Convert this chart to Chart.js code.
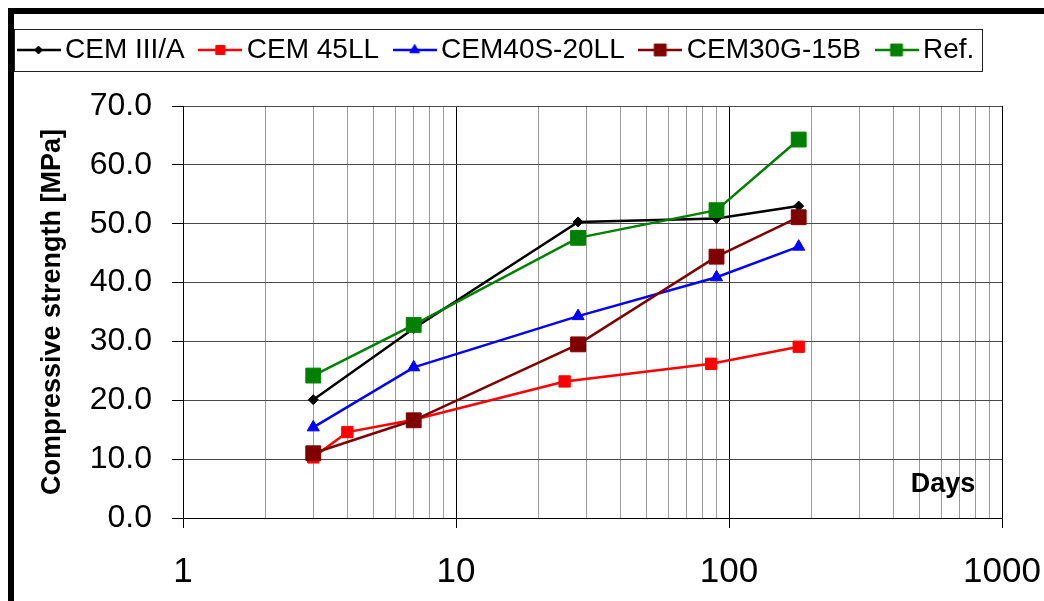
<!DOCTYPE html>
<html>
<head>
<meta charset="utf-8">
<script src="https://cdn.jsdelivr.net/npm/chart.js@4.4.1/dist/chart.umd.min.js"></script>
<style>
  html, body { margin: 0; padding: 0; background: #fff; }
  #grafico { display: block; }
</style>
</head>
<body>
<canvas id="grafico" width="1044" height="601"></canvas>
<script>
// Dados (dias x resistência à compressão, MPa)
const seriesNomes = ['CEM III/A', 'CEM 45LL', 'CEM40S-20LL', 'CEM30G-15B', 'Ref.'];
const dias = [3, 7, 28, 90, 180];
const diasCem45 = [3, 4, 7, 25, 86, 180];
const cemIIIA = [20.1, 32.2, 50.3, 50.9, 53.0];
const cem45LL = [10.3, 14.6, 16.7, 23.2, 26.2, 29.1];
const cem40S = [15.4, 25.6, 34.3, 40.9, 46.1];
const cem30G = [11.0, 16.6, 29.5, 44.4, 51.1];
const referencia = [24.2, 32.8, 47.6, 52.3, 64.3];

// ticks do eixo x (log) e rótulos visíveis
const xTicks = [1, 2, 3, 4, 5, 6, 7, 8, 9, 10, 20, 30, 40, 50, 60, 70, 80, 90,
                100, 200, 300, 400, 500, 600, 700, 800, 900, 1000];
const xRotulos = [1, 10, 100, 1000];
const yTicks = [0, 10, 20, 30, 40, 50, 60, 70];

const FONTE = '"Liberation Sans", Arial, sans-serif';
const PAD_LEGENDA = 23;

function pontos(xs, ys) {
  return xs.map((x, i) => ({ x: x, y: ys[i] }));
}

function iconeLegenda(cor, estilo, raio) {
  const c = document.createElement('canvas');
  c.width = 44; c.height = 24;
  const g = c.getContext('2d');
  g.strokeStyle = cor; g.lineWidth = 2.5;
  g.beginPath(); g.moveTo(0, 12); g.lineTo(44, 12); g.stroke();
  g.fillStyle = cor; g.lineWidth = 1;
  Chart.helpers.drawPoint(g, { pointStyle: estilo, radius: raio, borderWidth: 1, rotation: 0 }, 22, 12);
  return c;
}

const estilos = [
  { cor: '#000000', estilo: 'rectRot', raio: 5, dados: pontos(dias, cemIIIA) },
  { cor: '#ff0000', estilo: 'rect', raio: 8, dados: pontos(diasCem45, cem45LL) },
  { cor: '#0000ff', estilo: 'triangle', raio: 7, dados: pontos(dias, cem40S) },
  { cor: '#800000', estilo: 'rect', raio: 10.5, dados: pontos(dias, cem30G) },
  { cor: '#008000', estilo: 'rect', raio: 10.5, dados: pontos(dias, referencia) }
];
const icones = estilos.map(e => iconeLegenda(e.cor, e.estilo, e.raio * 0.8));

const moldura = {
  id: 'moldura',
  beforeLayout(chart) {
    const lg = chart.legend;
    if (lg && !lg._alturaFixa) {
      const fitOrig = lg.fit.bind(lg);
      lg.fit = function () { fitOrig(); this.height = 93; };
      lg._alturaFixa = true;
    }
  },
  afterDraw(chart) {
    const ctx = chart.ctx;
    const a = chart.chartArea;
    ctx.save();
    // caixa da legenda
    const hb = chart.legend.legendHitBoxes;
    const ult = hb[hb.length - 1];
    const cy = chart.legend.top + PAD_LEGENDA + 14;
    ctx.strokeStyle = '#222';
    ctx.lineWidth = 1;
    ctx.strokeRect(14.5, Math.round(cy - 21) + 0.5, Math.round(ult.left + ult.width + 8 - 14), 42);
    // "Days"
    ctx.font = 'bold 27px ' + FONTE;
    ctx.fillStyle = '#000';
    ctx.textAlign = 'center';
    ctx.textBaseline = 'alphabetic';
    ctx.fillText('Days', a.right - 59, a.bottom - 26);
    // borda preta
    ctx.fillRect(8, 8, chart.width - 8, 6);
    ctx.fillRect(8, 8, 6, chart.height - 8);
    ctx.restore();
  }
};

new Chart(document.getElementById('grafico'), {
  type: 'scatter',
  data: {
    datasets: estilos.map((e, i) => ({
      label: seriesNomes[i],
      data: e.dados,
      order: estilos.length - i,   // última série por cima, como no Excel
      showLine: true,
      borderColor: e.cor,
      backgroundColor: e.cor,
      borderWidth: 2.5,
      pointStyle: e.estilo,
      pointRadius: e.raio,
      pointBackgroundColor: e.cor,
      pointBorderColor: e.cor,
      pointBorderWidth: 1,
      tension: 0
    }))
  },
  options: {
    responsive: false,
    animation: false,
    layout: { autoPadding: false, padding: { left: 3, top: 13, right: 42, bottom: 0 } },
    plugins: {
      legend: {
        position: 'top',
        align: 'start',
        labels: {
          usePointStyle: true,
          pointStyleWidth: 25,
          padding: PAD_LEGENDA,
          color: '#000',
          font: { family: FONTE, size: 28, lineHeight: 1 },
          generateLabels(chart) {
            const itens = Chart.defaults.plugins.legend.labels.generateLabels(chart);
            itens.sort((a, b) => a.datasetIndex - b.datasetIndex);
            itens.forEach(it => { it.pointStyle = icones[it.datasetIndex]; });
            return itens;
          }
        }
      },
      tooltip: { enabled: false }
    },
    scales: {
      x: {
        type: 'logarithmic',
        min: 1,
        max: 1000,
        afterBuildTicks: s => { s.ticks = xTicks.map(v => ({ value: v })); },
        afterFit: s => { s.height = 83; s.paddingLeft = 0; s.paddingRight = 0; },
        ticks: {
          autoSkip: false,
          maxRotation: 0,
          padding: 23,
          color: '#000',
          font: { family: FONTE, size: 35 },
          callback: v => (xRotulos.includes(v) ? String(v) : '')
        },
        grid: {
          color: c => (xRotulos.includes(c.tick && c.tick.value) ? '#000' : '#9a9a9a'),
          tickColor: c => (xRotulos.includes(c.tick && c.tick.value) ? '#000' : 'rgba(0,0,0,0)'),
          tickLength: 10,
          lineWidth: 1
        },
        border: { color: '#000' }
      },
      y: {
        min: 0,
        max: 70,
        afterBuildTicks: s => { s.ticks = yTicks.map(v => ({ value: v })); },
        afterFit: s => { s.width = 180; s.paddingTop = 0; s.paddingBottom = 0; },
        ticks: {
          padding: 20,
          color: '#000',
          font: { family: FONTE, size: 32 },
          callback: v => v.toFixed(1)
        },
        grid: { color: '#4a4a4a', tickColor: '#000', tickLength: 11, lineWidth: 1 },
        border: { color: '#000' },
        title: {
          display: true,
          text: 'Compressive strength [MPa]',
          color: '#000',
          font: { family: FONTE, size: 27, weight: 'bold' },
          padding: { top: 33, bottom: 0 }
        }
      }
    }
  },
  plugins: [moldura]
});
</script>
</body>
</html>
